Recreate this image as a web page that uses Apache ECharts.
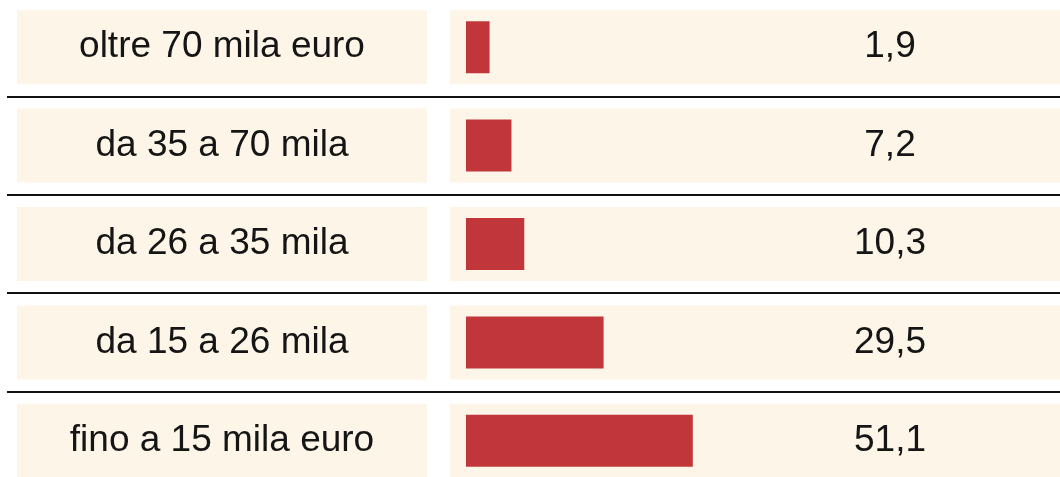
<!DOCTYPE html>
<html>
<head>
<meta charset="utf-8">
<script src="https://cdn.jsdelivr.net/npm/echarts@6/dist/echarts.min.js"></script>
<style>
  html, body { margin: 0; padding: 0; background: #fff; overflow: hidden; }
  /* 5 righe da 98.4px: il contenitore sborda di poco sopra e sotto */
  #chart { position: absolute; left: 0; top: -2.4px; width: 1060px; height: 492px; }
</style>
</head>
<body>
<div id="chart"></div>
<script>
// fasce di reddito (dall'alto verso il basso)
var categories = ['oltre 70 mila euro', 'da 35 a 70 mila', 'da 26 a 35 mila', 'da 15 a 26 mila', 'fino a 15 mila euro']
// quota percentuale
var values = [1.9, 7.2, 10.3, 29.5, 51.1]

var cream = '#fdf5e7'
var red = '#c0363a'
var ink = '#151515'

function catAxis(idx, extra) {
  return Object.assign({
    gridIndex: idx,
    type: 'category',
    inverse: true,
    data: categories,
    axisLine: { show: false },
    axisTick: { show: false },
    axisLabel: { show: false },
    splitLine: { show: false }
  }, extra || {})
}

var chart = echarts.init(document.getElementById('chart'))
chart.setOption({
  animation: false,
  textStyle: { fontFamily: 'Liberation Sans, Arial, sans-serif' },
  grid: [
    // linee di separazione
    { left: 7, right: 0, top: 0, bottom: 0, outerBoundsMode: 'none' },
    // riquadri etichette a sinistra
    { left: 17, width: 410, top: 0, bottom: 0, outerBoundsMode: 'none' },
    // riquadri crema a destra
    { left: 450, right: 0, top: 0, bottom: 0, outerBoundsMode: 'none' },
    // barre
    { left: 450, right: 0, top: 0, bottom: 0, outerBoundsMode: 'none' }
  ],
  xAxis: [
    { gridIndex: 0, type: 'value', min: 0, max: 1, show: false },
    { gridIndex: 1, type: 'value', min: 0, max: 100, show: false },
    { gridIndex: 2, type: 'value', min: 0, max: 100, show: false },
    {
      gridIndex: 3,
      type: 'value',
      min: -7.68,
      max: 140,
      startValue: -3.81,
      show: false
    }
  ],
  yAxis: [
    catAxis(0, {
      splitLine: {
        show: true,
        lineStyle: { color: '#111', width: 2 }
      }
    }),
    catAxis(1),
    catAxis(2),
    catAxis(3)
  ],
  series: [
    {
      type: 'bar',
      xAxisIndex: 1,
      yAxisIndex: 1,
      data: values,
      barWidth: 74,
      silent: true,
      itemStyle: { color: 'rgba(0,0,0,0)' },
      showBackground: true,
      backgroundStyle: { color: cream },
      label: {
        show: true,
        position: [205, '50%'],
        align: 'center',
        verticalAlign: 'middle',
        color: ink,
        fontSize: 37,
        formatter: function(p) {
          return p.name
        }
      }
    },
    {
      type: 'bar',
      xAxisIndex: 2,
      yAxisIndex: 2,
      data: values,
      barWidth: 74,
      silent: true,
      itemStyle: { color: 'rgba(0,0,0,0)' },
      showBackground: true,
      backgroundStyle: { color: cream }
    },
    {
      type: 'bar',
      xAxisIndex: 3,
      yAxisIndex: 3,
      data: values,
      barWidth: 52,
      itemStyle: { color: red },
      label: {
        show: true,
        position: [424, '50%'],
        align: 'center',
        verticalAlign: 'middle',
        color: ink,
        fontSize: 37,
        formatter: function(p) {
          return String(p.value).replace('.', ',')
        }
      }
    }
  ]
})
</script>
</body>
</html>
